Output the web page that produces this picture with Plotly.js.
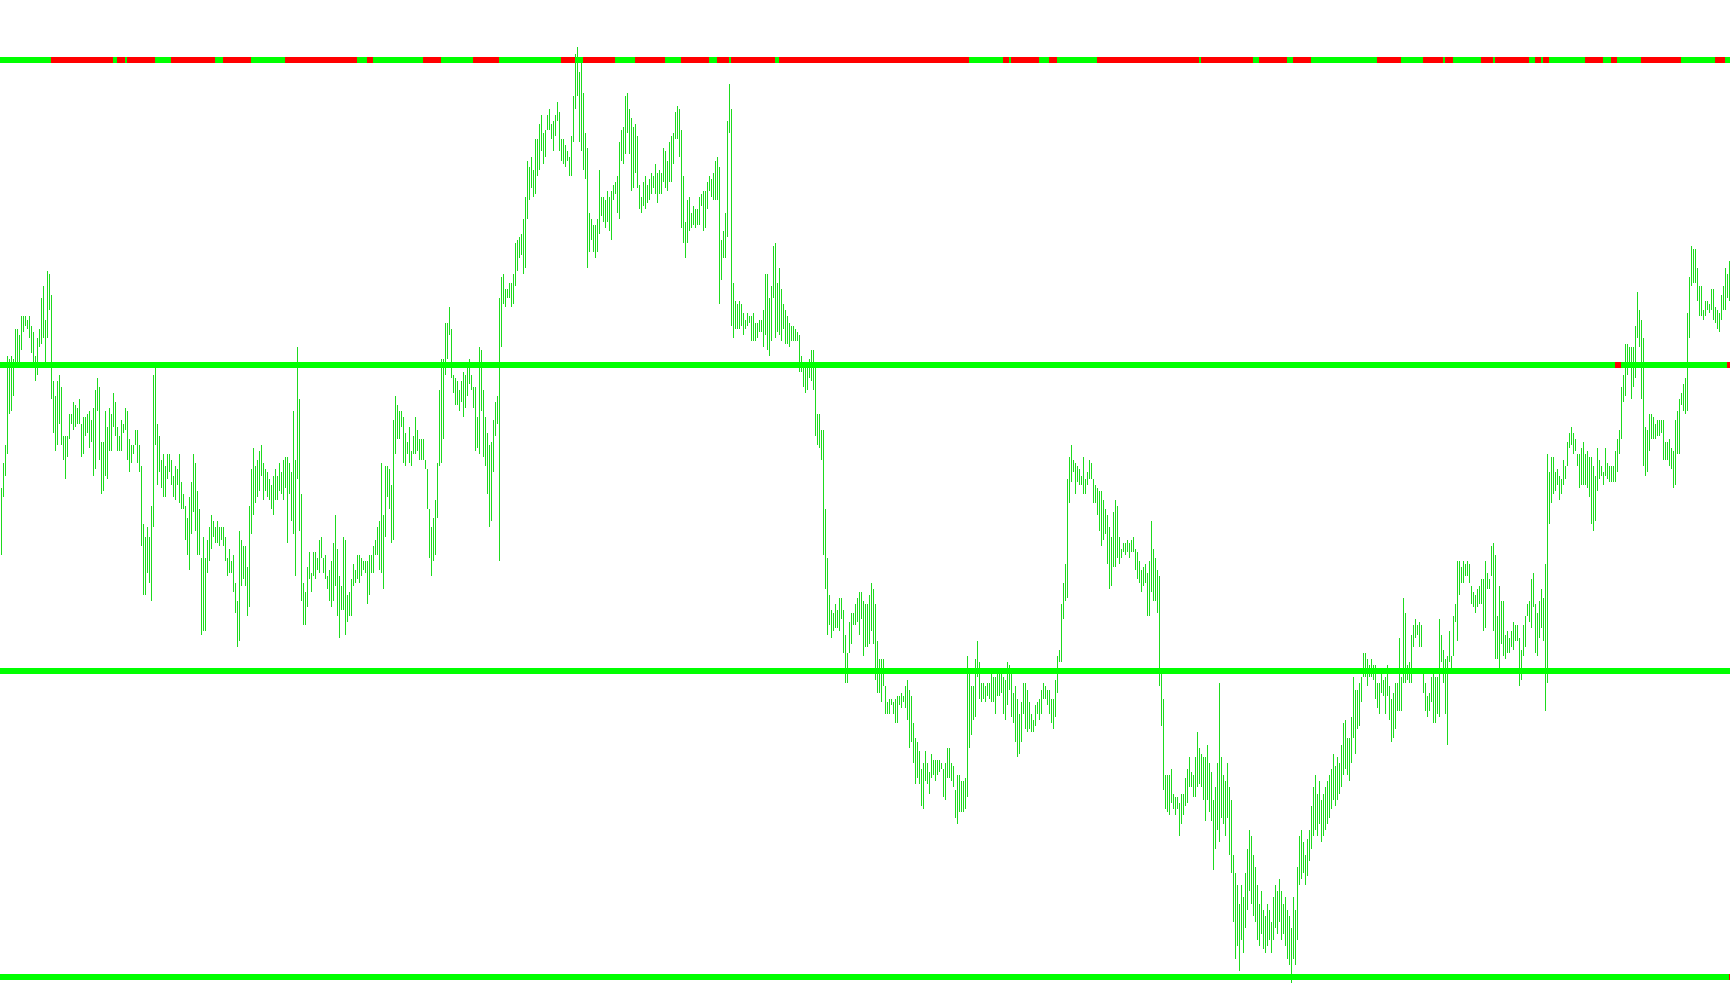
<!DOCTYPE html>
<html><head><meta charset="utf-8">
<script src="https://cdn.plot.ly/plotly-3.0.1.min.js"></script>
<style>html,body{margin:0;padding:0;background:#fff;overflow:hidden}#chart{width:1730px;height:1005px}
.scatterlayer .trace path.js-line{shape-rendering:crispEdges}</style>
</head><body><div id="chart"></div>
<script>
// indicator levels (bottom to top)
const levels = [0, 100, 200, 300];

// bar highs, one per bar (865 bars)
const highs = [
160,168,174,203,202,203,202,212,212,210,
216,216,216,215,216,213,211,203,209,212,
222,226,215,231,230,223,195,190,195,197,
193,177,177,177,184,184,188,187,186,189,
181,183,183,184,185,182,186,192,196,193,
175,175,185,180,186,184,191,188,180,177,
182,181,186,185,176,174,174,179,179,174,
167,148,144,147,144,154,197,199,181,177,
169,171,167,171,171,169,164,167,166,171,
162,158,154,150,157,162,171,168,159,153,
137,144,137,143,147,151,149,147,149,147,
147,147,144,137,140,136,138,129,123,146,
143,141,141,134,154,166,173,167,169,172,
174,168,166,165,163,161,164,166,164,168,
165,169,170,170,168,165,185,169,206,189,
158,129,126,134,139,132,139,139,137,143,
144,137,138,131,133,136,142,151,140,131,
128,144,143,125,126,130,135,133,138,138,
137,136,136,136,138,138,141,143,147,149,
168,151,167,167,166,161,182,190,187,185,
185,183,178,175,180,172,177,183,179,176,
176,176,169,166,153,147,150,156,168,192,
202,202,214,214,219,212,197,196,195,192,
195,198,197,200,202,197,193,193,183,206,
205,192,183,178,174,175,182,188,190,222,
229,230,225,225,227,227,230,240,241,242,
243,248,255,267,265,268,264,274,274,279,
282,276,277,282,284,279,280,282,286,283,
274,274,272,270,268,275,288,302,304,296,
301,289,276,271,250,248,246,246,248,264,
255,255,254,257,255,257,259,260,262,273,
277,278,288,289,284,281,278,279,275,259,
255,260,262,259,261,263,262,266,263,264,
263,271,270,267,273,275,276,283,285,284,
277,262,247,254,255,250,252,251,251,255,
256,257,257,260,262,261,263,267,268,265,
241,244,250,280,292,284,227,221,220,221,
220,217,215,217,216,216,217,214,214,215,
215,218,230,230,222,226,239,240,227,232,
225,220,218,216,214,213,213,212,211,210,
203,200,199,200,202,205,205,201,184,184,
179,179,153,137,125,120,119,122,120,124,
124,120,112,106,116,119,119,122,124,126,
126,123,122,122,125,129,127,122,110,104,
104,104,95,90,91,91,90,91,92,92,
93,92,95,97,94,92,83,78,77,74,
68,70,74,70,67,73,71,71,71,71,
70,68,70,75,75,70,69,61,66,66,
64,64,65,105,101,95,95,104,110,103,
96,96,95,96,96,99,98,98,101,99,
101,98,97,103,102,99,93,95,91,86,
90,96,96,94,90,86,84,89,90,91,
94,96,95,94,94,91,91,97,105,107,
122,129,135,163,170,174,169,168,167,166,
164,170,163,165,169,168,163,161,160,159,
159,156,153,151,147,144,152,156,154,144,
140,142,142,143,142,143,144,140,139,136,
133,134,135,132,136,149,140,137,133,131,
99,91,66,66,66,68,60,59,59,57,
60,60,65,68,72,67,66,72,80,75,
73,72,72,76,70,67,58,62,70,96,
72,66,64,70,62,58,40,34,30,24,
30,26,34,42,48,46,40,36,30,24,
28,22,20,24,22,18,26,30,28,32,
28,24,26,22,20,16,26,22,36,46,
48,44,40,45,48,56,62,66,60,64,
58,60,62,64,66,68,73,69,72,70,
76,83,84,78,78,85,98,94,94,96,
98,106,106,104,102,104,102,102,96,96,
99,97,98,102,95,91,93,96,96,111,
98,124,119,102,103,112,115,117,115,116,
115,101,96,92,93,98,99,98,98,117,
112,107,104,105,113,105,118,122,136,136,
134,136,135,136,135,128,126,125,127,128,
130,130,136,132,130,141,142,138,118,128,
123,123,112,113,111,113,116,115,115,111,
107,115,118,122,123,130,132,122,119,123,
127,124,135,171,165,170,170,165,166,164,
163,169,167,175,178,180,178,176,171,171,
173,175,171,172,170,170,167,164,173,169,
167,165,173,168,167,167,167,172,176,179,
193,197,207,207,206,206,206,213,224,218,
215,209,180,179,184,184,183,181,182,182,
182,182,175,175,176,173,172,182,185,189,
191,194,196,217,229,239,238,238,232,226,
226,218,221,221,220,225,225,219,218,217,
223,226,232,230,234
];

// bar lows, one per bar
const lows = [
138,157,164,171,184,185,190,199,201,201,
205,211,213,212,209,204,199,195,197,206,
207,209,199,209,218,189,178,172,174,181,
174,169,163,170,176,181,179,180,181,181,
170,171,177,178,173,175,164,166,185,169,
158,159,164,163,172,172,180,177,172,172,
172,178,179,169,165,168,171,174,168,165,
141,125,125,132,129,123,147,174,161,165,
160,157,157,163,165,161,157,156,161,155,
153,153,143,138,133,145,152,146,138,138,
112,113,113,132,136,140,144,142,142,141,
143,141,136,131,132,132,126,119,108,110,
128,130,128,118,121,145,151,155,157,159,
164,156,159,157,156,153,151,156,156,159,
158,156,160,142,158,149,145,131,163,146,
123,115,115,121,130,126,131,130,133,132,
137,132,130,127,123,121,123,128,118,111,
120,120,112,116,118,118,128,129,130,129,
131,133,132,122,125,132,132,138,138,133,
132,127,144,157,153,142,143,171,176,176,
180,168,167,171,168,167,171,171,172,169,
169,169,166,153,137,131,136,138,150,167,
168,176,197,202,210,196,191,187,187,185,
188,183,186,190,194,192,186,172,173,171,
185,170,167,158,147,149,165,177,181,136,
206,220,219,222,222,219,220,226,231,235,
236,230,232,248,254,258,255,256,262,264,
270,266,268,277,277,274,270,275,280,270,
267,266,265,267,262,262,273,284,288,273,
270,264,261,232,237,241,237,235,237,243,
249,247,245,247,244,241,254,256,250,248,
267,266,269,276,269,257,258,263,258,251,
250,252,251,253,254,256,258,256,253,256,
256,260,258,257,260,260,266,274,274,268,
245,240,235,240,244,245,246,245,246,246,
252,244,245,251,257,255,254,254,254,220,
228,235,235,242,276,213,209,212,212,212,
213,210,212,213,214,208,208,208,209,211,
211,206,210,205,203,208,222,209,211,210,
208,212,207,207,206,208,208,208,208,198,
198,193,191,192,196,195,192,177,174,173,
169,138,127,112,115,111,113,114,114,113,
117,106,96,96,106,109,115,115,116,112,
117,105,108,108,109,113,109,97,93,93,
90,95,86,86,86,89,86,83,83,89,
88,90,88,84,75,77,70,63,65,63,
56,55,64,63,60,65,66,64,66,67,
68,59,58,65,65,64,62,52,50,54,
54,54,55,59,75,79,84,85,98,91,
90,91,90,92,91,90,90,86,92,92,
93,86,84,89,94,85,83,77,72,73,
77,86,81,80,81,80,80,82,86,84,
86,91,91,89,86,83,81,85,93,103,
103,117,123,124,155,162,165,158,162,161,
161,158,158,161,163,163,155,155,151,146,
141,143,145,135,127,128,134,134,137,135,
137,139,138,139,137,139,139,133,130,129,
126,128,129,118,118,126,123,123,119,95,
82,61,55,54,53,57,55,53,55,46,
50,53,56,57,62,62,59,59,62,63,
62,58,51,58,54,51,35,42,48,44,
52,50,46,52,40,34,18,6,10,2,
12,8,16,22,28,24,20,18,12,10,
14,9,8,10,12,8,12,16,14,18,
12,14,10,6,4,-2,6,4,12,30,
32,34,30,33,38,42,46,48,46,50,
44,46,48,50,52,55,58,56,58,60,
62,66,68,66,64,70,78,73,81,82,
90,98,98,95,98,98,97,91,88,86,
93,92,86,92,84,77,78,81,87,87,
87,96,96,97,96,96,108,111,112,108,
108,93,87,85,87,90,83,83,86,85,
103,96,86,76,103,99,105,116,110,125,
129,129,131,131,129,122,121,119,121,122,
122,113,114,127,127,131,113,104,104,101,
109,105,104,106,106,108,107,110,110,95,
97,105,108,118,116,114,121,106,105,111,
114,110,87,96,148,155,158,159,161,156,
158,161,163,167,173,174,171,172,167,160,
161,161,161,160,157,148,146,149,159,163,
164,161,164,163,162,162,162,162,165,171,
176,188,190,197,199,189,193,196,209,206,
189,167,164,165,172,176,176,176,177,177,
178,169,169,169,167,166,160,161,171,171,
187,185,184,185,209,226,227,227,221,216,
216,215,216,218,217,218,215,214,212,211,
215,218,218,222,221
];

// state runs along each level line, in bars, alternating green / red (starting green)
const line0Runs = [864, 1];
const line100Runs = [865];
const line200Runs = [807, 3, 53, 2];
const line300Runs = [25,31,2,4,1,14,8,22,4,14,17,36,5,3,25,9,16,13,31,7,4,16,10,15,8,14,4,6,1,22,2,95,17,3,1,14,5,4,20,51,1,26,3,14,3,9,33,12,11,10,1,4,14,6,1,17,3,3,1,3,18,9,4,3,12,20,17,5,3];

const runSets = [line0Runs, line100Runs, line200Runs, line300Runs];
const stateColors = ['#00ff00', '#ff0000'];
const barColor = 'rgb(30,218,30)';

const bx = [], by = [];
for (let k = 0; k < highs.length; k++) {
  bx.push(k, k, null);
  by.push(lows[k], highs[k], null);
}

const segs = [{x: [], y: []}, {x: [], y: []}];
runSets.forEach((runs, i) => {
  let a = 0;
  runs.forEach((len, j) => {
    const s = segs[j % 2];
    s.x.push(a === 0 ? -0.75 : a - 0.5, a + len - 0.5, null);
    s.y.push(levels[i], levels[i], null);
    a += len;
  });
});

const traces = [
  {type: 'scatter', mode: 'lines', x: bx, y: by, line: {color: barColor, width: 1}, hoverinfo: 'skip', connectgaps: false},
  {type: 'scatter', mode: 'lines', x: segs[0].x, y: segs[0].y, line: {color: stateColors[0], width: 6}, hoverinfo: 'skip', connectgaps: false},
  {type: 'scatter', mode: 'lines', x: segs[1].x, y: segs[1].y, line: {color: stateColors[1], width: 6}, hoverinfo: 'skip', connectgaps: false}
];

const layout = {
  width: 1730, height: 1005,
  margin: {l: 0, r: 0, t: 0, b: 0, pad: 0},
  paper_bgcolor: '#ffffff', plot_bgcolor: '#ffffff',
  showlegend: false,
  xaxis: {range: [-0.75, 864.25], visible: false, showgrid: false, zeroline: false, fixedrange: true},
  yaxis: {range: [-9.16, 319.5], visible: false, showgrid: false, zeroline: false, fixedrange: true}
};

Plotly.newPlot('chart', traces, layout, {displayModeBar: false, staticPlot: true});
</script>
</body></html>
